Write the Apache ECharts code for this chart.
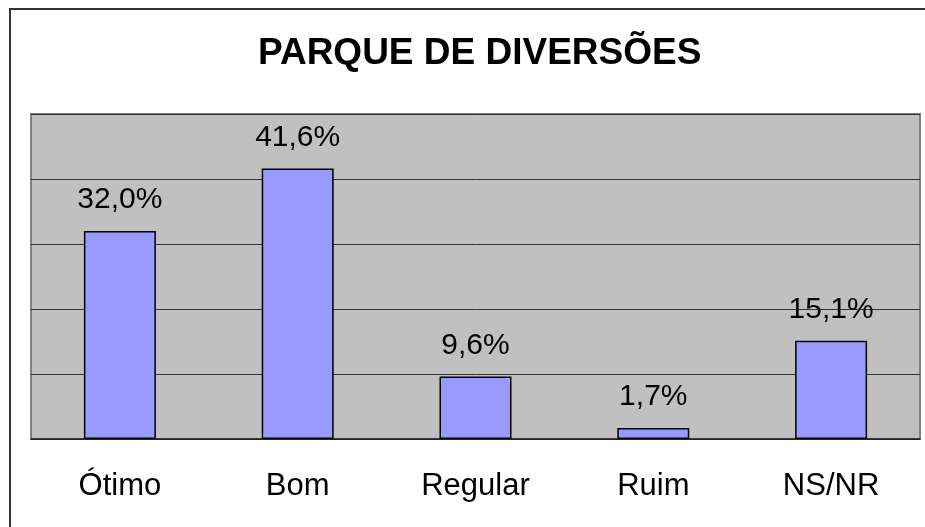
<!DOCTYPE html>
<html>
<head>
<meta charset="utf-8">
<script src="https://cdn.jsdelivr.net/npm/echarts@6/dist/echarts.min.js"></script>
<style>
  html, body { margin: 0; padding: 0; background: #fff; }
  #chart { width: 925px; height: 527px; }
</style>
</head>
<body>
<div id="chart"></div>
<script>
// dados do gráfico
const categorias = ['Ótimo', 'Bom', 'Regular', 'Ruim', 'NS/NR']
const percentuais = [32.0, 41.6, 9.6, 1.7, 15.1]
const titulo = 'PARQUE DE DIVERSÕES'

const fonte = '"Liberation Sans", Arial, sans-serif'

const chart = echarts.init(document.getElementById('chart'))

chart.setOption({
  backgroundColor: '#fff',
  animation: false,
  title: {
    text: titulo,
    left: 253,
    top: 30,
    textStyle: {
      fontFamily: fonte,
      fontSize: 37,
      fontWeight: 'bold',
      color: '#000'
    }
  },
  graphic: [{
    type: 'rect',
    silent: true,
    shape: { x: 10, y: 9, width: 2000, height: 2000 },
    style: { fill: 'none', stroke: '#333', lineWidth: 2 }
  }],
  grid: {
    left: 31,
    right: 5,
    top: 114,
    bottom: 88,
    show: true,
    backgroundColor: '#c0c0c0',
    borderColor: '#808080',
    borderWidth: 2
  },
  xAxis: {
    type: 'category',
    data: categorias,
    axisLine: { lineStyle: { color: '#222', width: 1.5 } },
    axisTick: { length: 10, lineStyle: { color: '#808080' } },
    axisLabel: {
      margin: 32,
      fontFamily: fonte,
      fontSize: 31,
      color: '#000'
    }
  },
  yAxis: {
    type: 'value',
    min: 0,
    max: 50,
    interval: 10,
    axisLabel: { show: false },
    axisLine: { show: false },
    axisTick: { show: false },
    splitLine: { lineStyle: { color: '#333', width: 1 } }
  },
  series: [{
    type: 'bar',
    data: percentuais,
    barWidth: 72,
    itemStyle: {
      color: '#9999ff',
      borderColor: '#000',
      borderWidth: 1.5
    },
    label: {
      show: true,
      position: 'top',
      distance: 16,
      fontFamily: fonte,
      fontSize: 30,
      color: '#000',
      formatter: p => p.value.toFixed(1).replace('.', ',') + '%'
    }
  }]
})
</script>
</body>
</html>
